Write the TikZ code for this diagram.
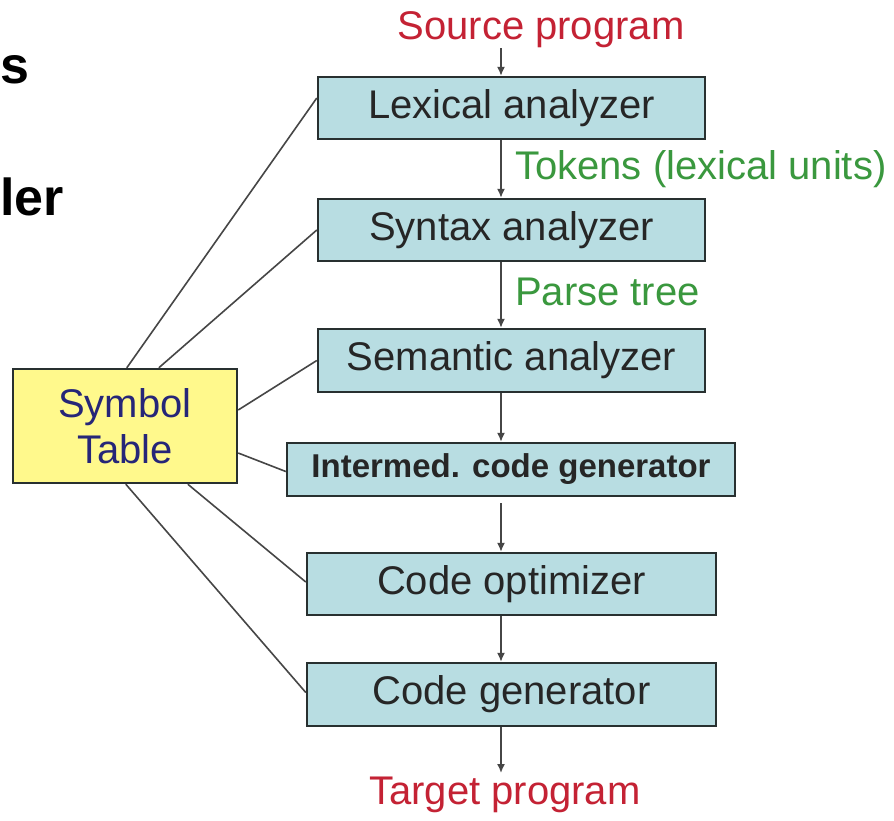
\documentclass[tikz,border=0pt]{standalone}
\usepackage{fontspec}
\setmainfont{Liberation Sans}
\usetikzlibrary{arrows.meta}
\definecolor{boxfill}{RGB}{184,221,226}
\definecolor{boxline}{RGB}{40,48,48}
\definecolor{symfill}{RGB}{255,249,140}
\definecolor{redtxt}{RGB}{196,34,52}
\definecolor{greentxt}{RGB}{58,152,62}
\definecolor{navytxt}{RGB}{38,38,120}
\definecolor{linegrey}{RGB}{70,70,70}
\tikzset{
  phase/.style={draw=boxline, line width=2.4pt, fill=boxfill, inner sep=0pt,
    font=\fontsize{40}{44}\selectfont, text=black!85},
  symbox/.style={draw=boxline, line width=2.4pt, fill=symfill, inner sep=0pt,
    font=\fontsize{40}{46}\selectfont, text=navytxt, align=center},
  flowarr/.style={draw=linegrey, line width=1.6pt, -{Latex[length=9pt,width=8pt]}},
  symlink/.style={draw=linegrey, line width=1.6pt},
  redlabel/.style={inner sep=0pt, text=redtxt, font=\fontsize{40}{44}\selectfont},
  greenlabel/.style={inner sep=0pt, text=greentxt, font=\fontsize{40}{44}\selectfont, anchor=west},
  titlefrag/.style={inner sep=0pt, anchor=base west, font=\fontsize{52}{56}\selectfont\bfseries}
}
\begin{document}
\begin{tikzpicture}[x=1pt,y=-1pt]
\useasboundingbox (0,0) rectangle (894,820);
\fill[white] (0,0) rectangle (894,820);
% cut-off title fragments
\node[titlefrag] (t1) at (0,83) {s};
\node[titlefrag] (t2) at (0,215) {ler};
% phases
\node[phase, minimum width=387pt, minimum height=62pt] (lex) at (511.5,108) {Lexical analyzer};
\node[phase, minimum width=387pt, minimum height=62pt] (syn) at (511.5,230) {Syntax analyzer};
\node[phase, minimum width=387pt, minimum height=63pt] (sem) at (511.5,360.5) {Semantic analyzer};
\node[phase, minimum width=448pt, minimum height=53pt, font=\fontsize{33}{36}\selectfont\bfseries] (int) at (511,469.5) {Intermed. code generator};
\node[phase, minimum width=409pt, minimum height=62pt] (opt) at (511.5,584) {Code optimizer};
\node[phase, minimum width=409pt, minimum height=63pt] (gen) at (511.5,694.5) {Code generator};
\node[symbox, minimum width=224pt, minimum height=114pt] (sym) at (125,426) {Symbol\\Table};
% labels
\node[redlabel] (src) at (541,30) {Source program};
\node[redlabel] (tgt) at (505,795) {Target program};
\node[greenlabel] (tok) at (515,169) {Tokens (lexical units)};
\node[greenlabel] (pt) at (515,292) {Parse tree};
% flow arrows
\coordinate (ax) at (501,0);
\coordinate (s0) at (501,48);
\coordinate (t0) at (501,773);
\draw[flowarr] (s0) -- (lex.north -| ax);
\draw[flowarr] (lex.south -| ax) -- (syn.north -| ax);
\draw[flowarr] (syn.south -| ax) -- (sem.north -| ax);
\draw[flowarr] (sem.south -| ax) -- (int.north -| ax);
\draw[flowarr] ([yshift=-6pt]int.south -| ax) -- (opt.north -| ax);
\draw[flowarr] (opt.south -| ax) -- (gen.north -| ax);
\draw[flowarr] (gen.south -| ax) -- (t0);
% symbol table links
\draw[symlink] ([xshift=115pt]sym.north west) -- ([yshift=10pt]lex.west);
\draw[symlink] ([xshift=147pt]sym.north west) -- (syn.west);
\draw[symlink] ([yshift=16pt]sym.east) -- (sem.west);
\draw[symlink] ([yshift=-27pt]sym.east) -- ([yshift=-2pt]int.west);
\draw[symlink] ([xshift=176pt]sym.south west) -- ([yshift=2pt]opt.west);
\draw[symlink] ([xshift=114pt]sym.south west) -- ([yshift=2pt]gen.west);
\end{tikzpicture}
\end{document}
